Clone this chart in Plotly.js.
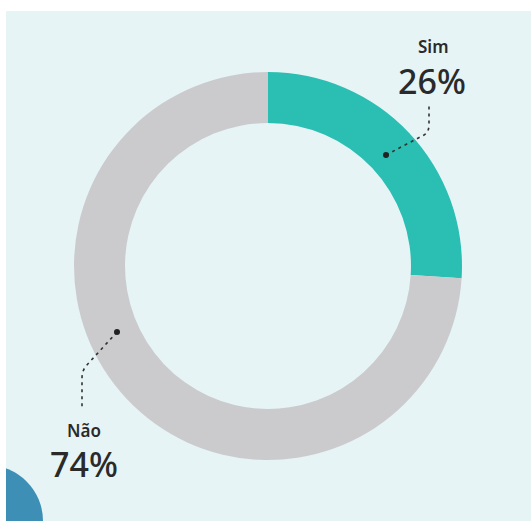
<!DOCTYPE html>
<html>
<head>
<meta charset="utf-8">
<script src="https://cdn.plot.ly/plotly-3.0.1.min.js"></script>
<style>html,body{margin:0;padding:0;background:#fff;}#chart{width:531px;height:521px;}</style>
</head>
<body>
<div id="chart"></div>
<script>
var categories = ["Sim", "Não"];
var values = [26, 74];
var valueLabels = ["26%", "74%"];
var colors = ["#2bbfb3", "#cbcbcd"];

var W = 531, H = 521;
function px(x){ return x / W; }
function py(y){ return 1 - y / H; }

var cx = 268, cy = 266, R = 194;

var trace = {
  type: "pie",
  labels: categories,
  values: values,
  sort: false,
  direction: "clockwise",
  rotation: 0,
  hole: 0.737,
  textinfo: "none",
  hoverinfo: "none",
  showlegend: false,
  marker: { colors: colors, line: { width: 0 } },
  domain: { x: [px(cx - R), px(cx + R)], y: [py(cy + R), py(cy - R)] }
};

var textColor = "#2a2a2a";
var font = "Noto Sans, Open Sans, sans-serif";
var labelPos = [
  { lx: 432.5, ly: 46, vx: 432, vy: 81 },
  { lx: 84, ly: 430, vx: 84, vy: 464 }
];
var annotations = [];
for (var i = 0; i < categories.length; i++) {
  annotations.push({ xref: "paper", yref: "paper", x: px(labelPos[i].lx), y: py(labelPos[i].ly),
    text: categories[i], showarrow: false, xanchor: "center", yanchor: "middle", height: 18,
    font: { family: font, size: 17, weight: 600, color: textColor } });
  annotations.push({ xref: "paper", yref: "paper", x: px(labelPos[i].vx), y: py(labelPos[i].vy),
    text: valueLabels[i], showarrow: false, xanchor: "center", yanchor: "middle", height: 32,
    font: { family: font, size: 34, weight: 500, color: textColor } });
}

function path(pts) {
  return pts.map(function (p, k) { return (k ? (p.q ? "Q " : "L ") : "M ") +
    (p.q ? px(p.q[0]) + "," + py(p.q[1]) + " " : "") + px(p[0]) + "," + py(p[1]); }).join(" ");
}
function leader(pts) {
  return { type: "path", xref: "paper", yref: "paper", layer: "above",
    path: path(pts), line: { color: "#333333", width: 1.6, dash: "3px,4px" } };
}
function dot(x, y) {
  var r = 3;
  return { type: "circle", xref: "paper", yref: "paper", layer: "above",
    x0: px(x - r), x1: px(x + r), y0: py(y + r), y1: py(y - r),
    fillcolor: "#222222", line: { width: 0 } };
}

var p1b = [429, 125]; p1b.q = [429, 132];
var p2b = [82, 378]; p2b.q = [82, 371];

var shapes = [
  { type: "rect", xref: "paper", yref: "paper", layer: "below",
    x0: px(6), x1: 1, y0: 0, y1: py(11), fillcolor: "#e6f4f6", line: { width: 0 } },
  { type: "circle", xref: "paper", yref: "paper", layer: "below",
    x0: px(-13 - 56), x1: px(-13 + 56), y0: py(521 + 56), y1: py(521 - 56),
    fillcolor: "#3e8fb6", line: { width: 0 } },
  { type: "rect", xref: "paper", yref: "paper", layer: "below",
    x0: 0, x1: px(6), y0: 0, y1: 1, fillcolor: "#ffffff", line: { width: 0 } },
  leader([[386, 155], [424, 135], p1b, [429, 104]]),
  leader([[117, 332], [86, 366], p2b, [82, 408]]),
  dot(386, 155),
  dot(117, 332)
];

var layout = {
  width: W, height: H,
  margin: { l: 0, r: 0, t: 0, b: 0, pad: 0 },
  paper_bgcolor: "#ffffff",
  showlegend: false,
  annotations: annotations,
  shapes: shapes
};

Plotly.newPlot("chart", [trace], layout, { displayModeBar: false, staticPlot: true });
</script>
</body>
</html>
